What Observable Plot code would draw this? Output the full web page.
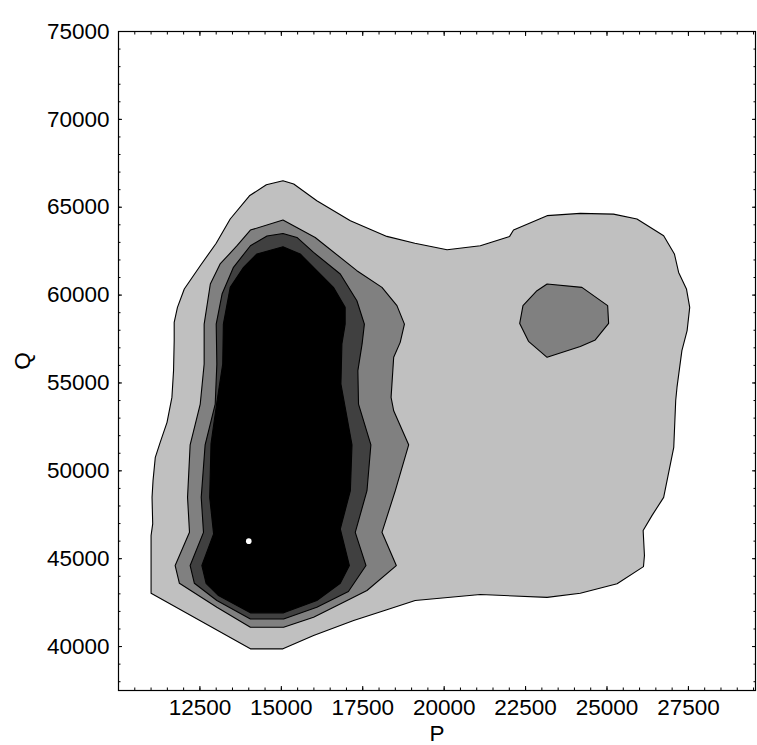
<!DOCTYPE html>
<html>
<head>
<meta charset="utf-8">
<script src="https://cdn.jsdelivr.net/npm/d3@7"></script>
<script src="https://cdn.jsdelivr.net/npm/@observablehq/plot@0.6"></script>
<style>
  html, body { margin: 0; padding: 0; background: #fff; }
</style>
</head>
<body>
<div id="chart"></div>
<script>
// Axis ticks
const xMajorTicks = [12500, 15000, 17500, 20000, 22500, 25000, 27500];
const xMinorTicks = d3.range(10500, 29600, 500);
const yMajorTicks = [40000, 45000, 50000, 55000, 60000, 65000, 70000, 75000];
const yMinorTicks = d3.range(38000, 75000, 1000);
const xDomain = [10000, 29560];
const yDomain = [37500, 75000];

// Contour level 1 (outermost, light gray)
const level1 = [
  [11000, 43030], [11000, 46310], [11050, 46980], [11030, 48490], [11060, 49440],
  [11130, 50770], [11280, 51620], [11490, 52760], [11640, 54180], [11690, 55700],
  [11710, 57400], [11710, 58450], [11810, 59300], [12020, 60350], [12510, 61670],
  [13000, 62950], [13430, 64330], [14020, 65650], [14540, 66280], [15050, 66510],
  [15380, 66320], [16090, 65370], [17120, 64230], [18240, 63340], [19100, 62950],
  [20090, 62580], [21110, 62810], [22010, 63340], [22130, 63700], [23160, 64520],
  [24180, 64650], [25200, 64610], [25920, 64330], [26740, 63380], [27070, 62340],
  [27200, 61290], [27440, 60350], [27540, 59300], [27460, 57980], [27300, 56840],
  [27150, 54760], [27110, 54000], [27050, 51340], [26740, 48490], [26380, 47450],
  [26110, 46600], [26150, 45180], [26120, 44550], [25310, 43570], [24180, 43030],
  [23160, 42800], [21110, 42960], [19110, 42620], [18240, 42090], [17220, 41480],
  [15990, 40630], [15050, 39870], [14050, 39870]
];

// Contour level 2 (mid gray), main blob
const level2 = [
  [11740, 44610], [12180, 46500], [12120, 48490], [12200, 51480], [12510, 53800],
  [12630, 56080], [12630, 58350], [12820, 60630], [13120, 61770], [13640, 62810],
  [14050, 63700], [15050, 64270], [16040, 63280], [17320, 61390], [18090, 60440],
  [18550, 59400], [18780, 58350], [18650, 57310], [18450, 56460], [18370, 54180],
  [18450, 53420], [18910, 51480], [18500, 48870], [18090, 46500], [18530, 44610],
  [17630, 43190], [17020, 42620], [15990, 41670], [15070, 41100], [14050, 41100],
  [13020, 42240], [11870, 43600]
];

// Contour level 2 (mid gray), right blob
const level2b = [
  [23160, 60630], [24230, 60440], [25020, 59400], [25050, 58390], [24640, 57450],
  [24180, 57080], [23160, 56460], [22590, 57370], [22320, 58390], [22420, 59400],
  [22850, 60250]
];

// Contour level 3 (dark gray)
const level3 = [
  [12200, 44610], [12610, 46500], [12540, 48490], [12660, 51480], [12970, 53800],
  [13020, 56080], [13000, 58350], [13180, 60060], [13530, 61580], [14050, 62810],
  [14560, 63360], [15050, 63510], [15480, 63280], [15990, 62430], [16810, 61200],
  [17320, 59680], [17550, 58350], [17480, 57220], [17350, 55700], [17370, 53800],
  [17750, 51480], [17630, 48870], [17270, 46500], [17600, 44610], [17060, 43130],
  [16090, 42240], [15070, 41570], [14050, 41570], [13020, 42620], [12330, 43600]
];

// Contour level 4 (black)
const level4 = [
  [12560, 44610], [12920, 46410], [12800, 48490], [12840, 51530], [13020, 53900],
  [13200, 56080], [13220, 58350], [13430, 60440], [13840, 61580], [14250, 62340],
  [15050, 62750], [15580, 62340], [16600, 60440], [16960, 59300], [16960, 58350],
  [16860, 57220], [16830, 54940], [17170, 51480], [17120, 48870], [16810, 46690],
  [17090, 44610], [16810, 43600], [16090, 42620], [15070, 41920], [14050, 41920],
  [13070, 42900], [12690, 43600]
];

// Peak marker
const peak = [[14000, 46000]];

const closed = (pts) => [...pts, pts[0]].map(([x, y]) => ({x, y}));

const poly = (pts, fill) => Plot.line(closed(pts), {
  x: "x", y: "y", fill, stroke: "black", strokeWidth: 1.1, strokeLinejoin: "round"
});

const plot = Plot.plot({
  width: 757,
  height: 745,
  marginLeft: 118,
  marginRight: 2,
  marginTop: 31,
  marginBottom: 55,
  style: {fontFamily: "'Liberation Sans', Arial, sans-serif", fontSize: "22.5px", background: "white", color: "black"},
  x: {domain: xDomain},
  y: {domain: yDomain},
  marks: [
    poly(level1, "#c0c0c0"),
    poly(level2b, "#808080"),
    poly(level2, "#808080"),
    poly(level3, "#404040"),
    poly(level4, "#000000"),
    Plot.dot(peak.map(([x, y]) => ({x, y})), {x: "x", y: "y", r: 2.8, fill: "white", stroke: "none"}),
    Plot.frame({stroke: "black", strokeWidth: 1.2}),
    // minor ticks (all sides)
    Plot.axisX(xMinorTicks, {anchor: "bottom", tickSize: -2.5, fill: "none", label: null, tickFormat: () => ""}),
    Plot.axisX(xMinorTicks, {anchor: "top", tickSize: -2.5, fill: "none", label: null, tickFormat: () => ""}),
    Plot.axisY(yMinorTicks, {anchor: "left", tickSize: -2.5, fill: "none", label: null, tickFormat: () => ""}),
    Plot.axisY(yMinorTicks, {anchor: "right", tickSize: -2.5, fill: "none", label: null, tickFormat: () => ""}),
    // major ticks with labels
    Plot.axisX(xMajorTicks, {anchor: "bottom", tickSize: -4, tickPadding: 13, tickFormat: d3.format("d"),
      label: "P", labelAnchor: "center", labelArrow: "none", labelOffset: 50}),
    Plot.axisX(xMajorTicks, {anchor: "top", tickSize: -4, fill: "none", label: null, tickFormat: () => ""}),
    Plot.axisY(yMajorTicks, {anchor: "left", tickSize: -4, tickPadding: 13, tickFormat: d3.format("d"),
      label: "Q", labelAnchor: "center", labelArrow: "none", labelOffset: 104}),
    Plot.axisY(yMajorTicks, {anchor: "right", tickSize: -4, fill: "none", label: null, tickFormat: () => ""})
  ]
});
document.getElementById("chart").appendChild(plot);
</script>
</body>
</html>
